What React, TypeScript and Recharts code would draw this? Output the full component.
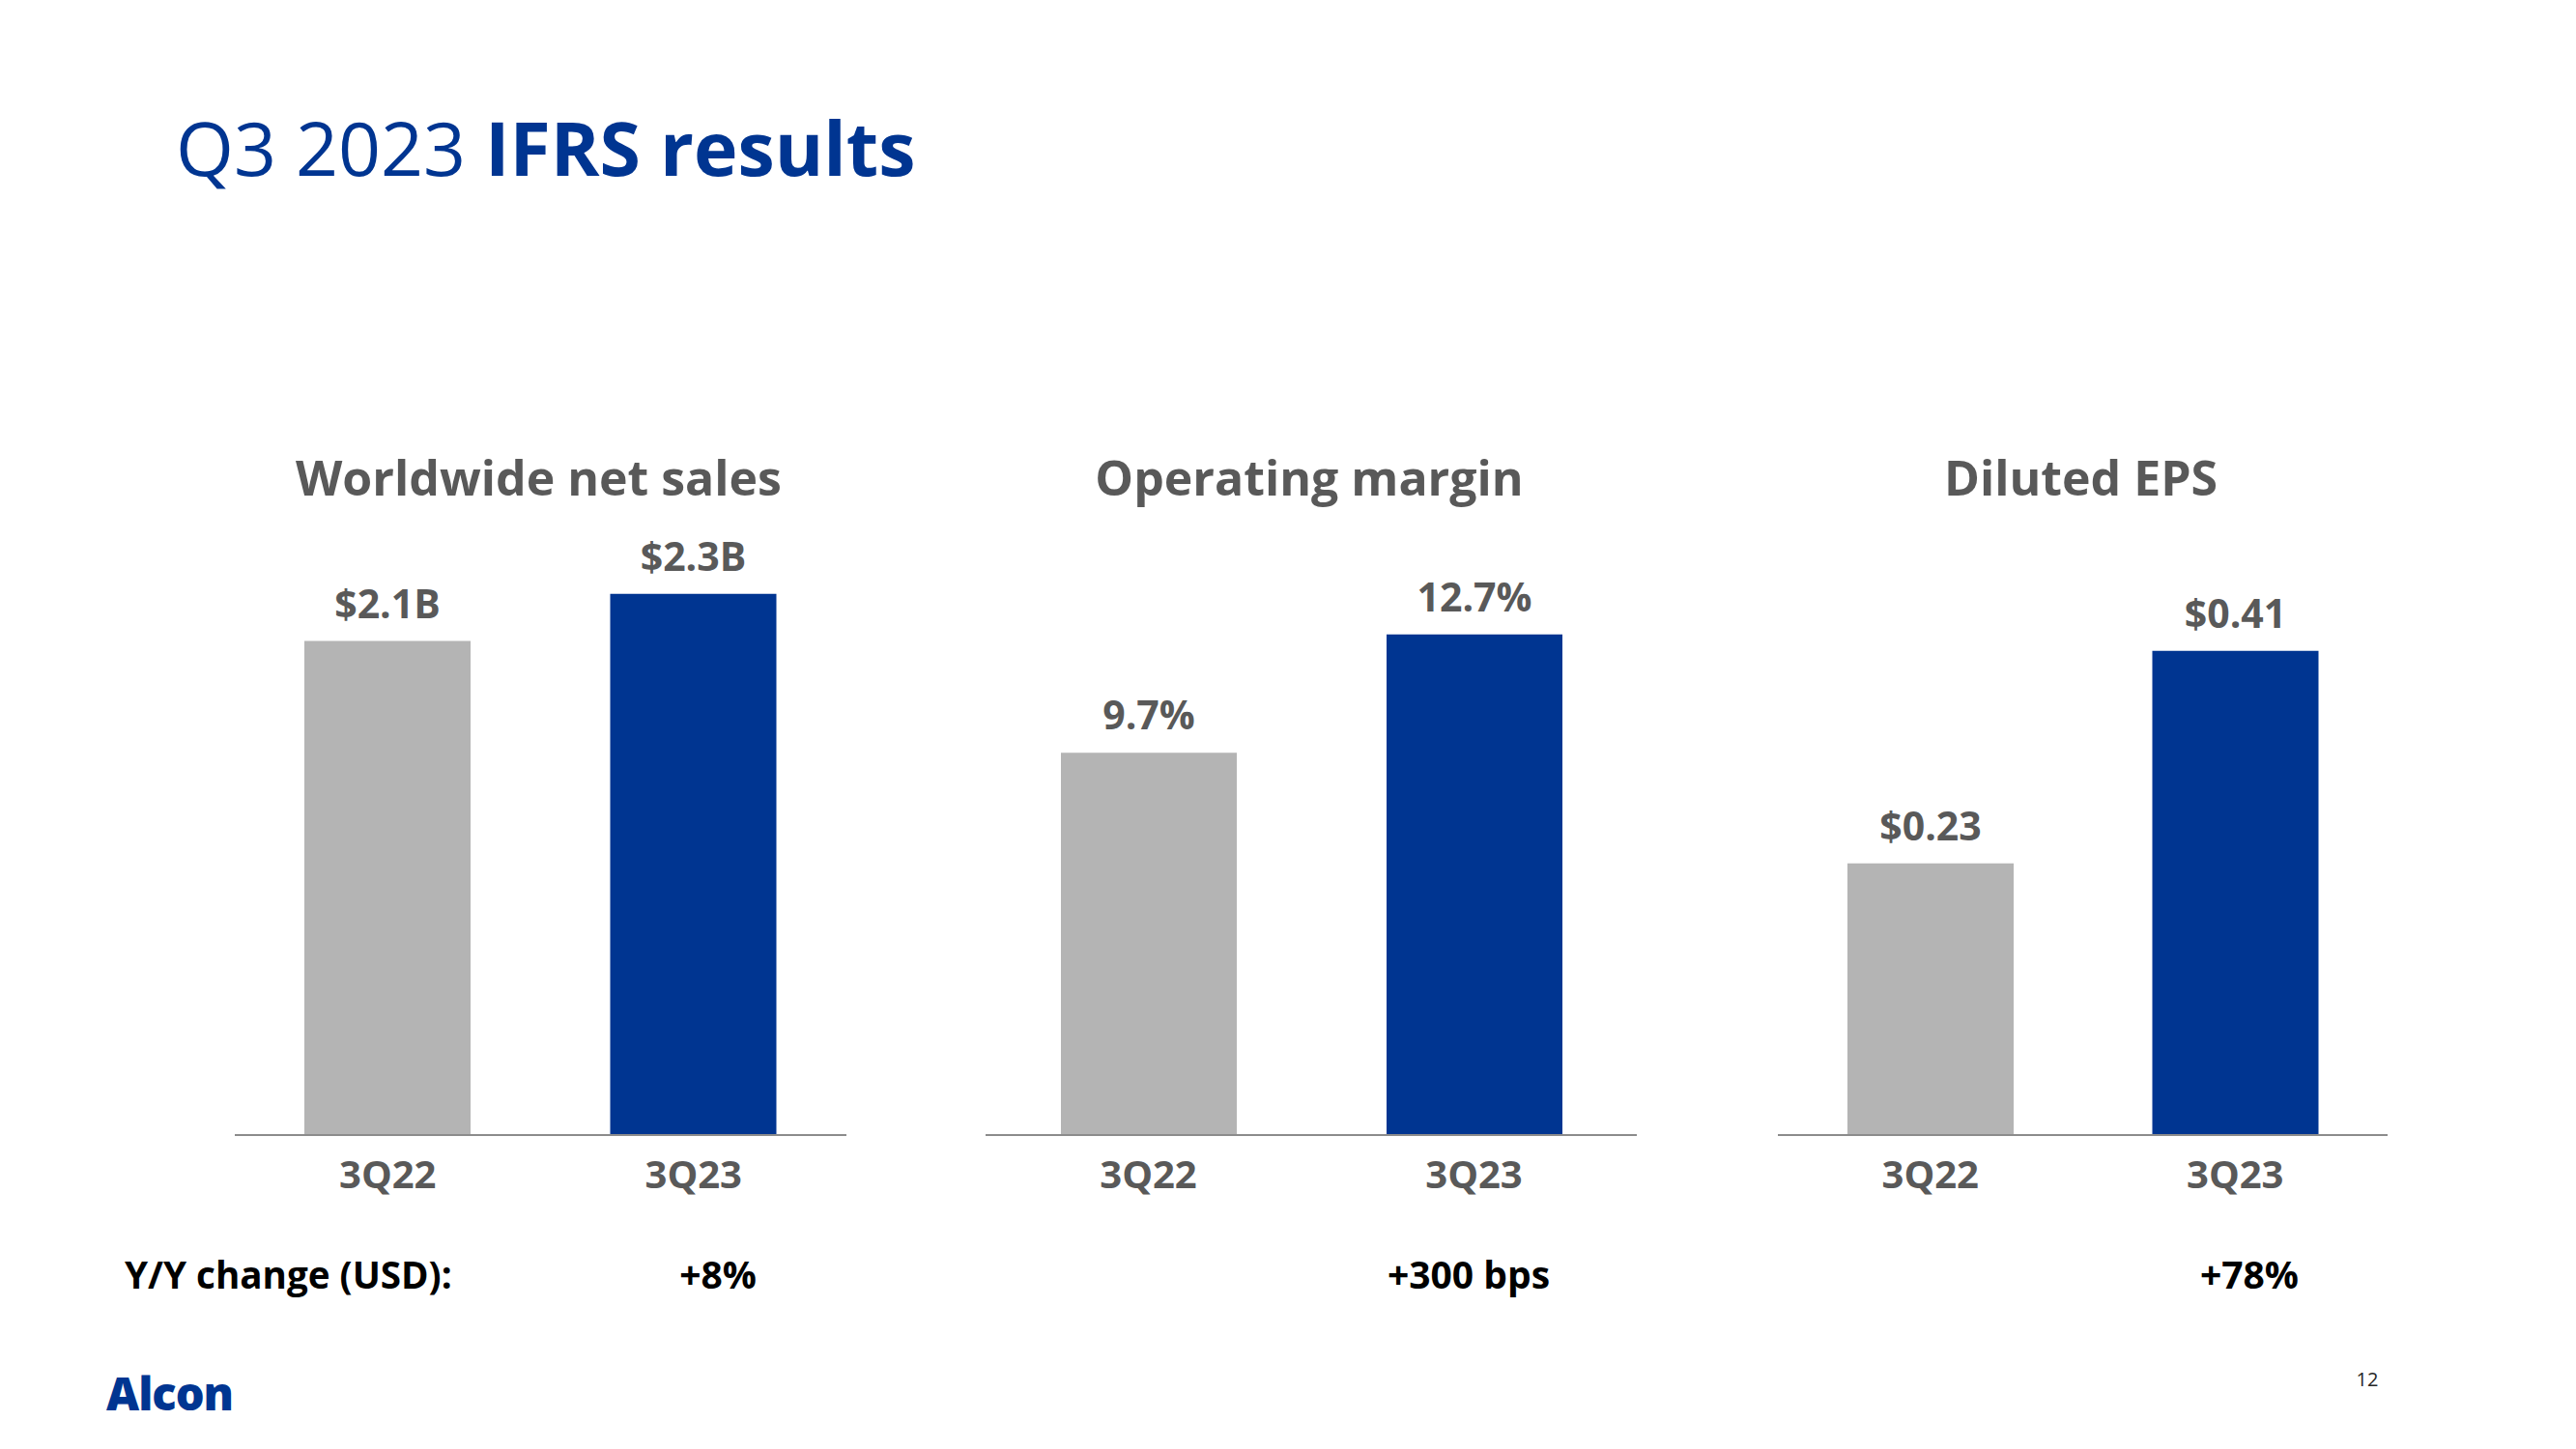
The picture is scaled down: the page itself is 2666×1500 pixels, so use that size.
import { BarChart, Bar, XAxis, YAxis, Cell, LabelList } from 'recharts';

const categories = ['3Q22', '3Q23'];
const salesValues = [2.1, 2.3];
const salesLabels = ['$2.1B', '$2.3B'];
const marginValues = [9.7, 12.7];
const marginLabels = ['9.7%', '12.7%'];
const epsValues = [0.23, 0.41];
const epsLabels = ['$0.23', '$0.41'];
const panelTitles = ['Worldwide net sales', 'Operating margin', 'Diluted EPS'];
const yoyChanges = ['+8%', '+300 bps', '+78%'];

const BLUE = '#003591';
const GREY_TEXT = '#595959';
const barColors = ['#b4b4b4', BLUE];
const FONT = '"Open Sans", sans-serif';

const CHART_TOP = 440;
const CHART_H = 805;

interface PanelProps {
  left: number;
  width: number;
  values: number[];
  labels: string[];
  domainMax: number;
  barSize: number;
}

function Panel({ left, width, values, labels, domainMax, barSize }: PanelProps) {
  const data = categories.map((name, i) => ({ name, value: values[i], label: labels[i] }));
  return (
    <div style={{ position: 'absolute', left, top: CHART_TOP, width, height: CHART_H }}>
      <BarChart width={width} height={CHART_H} data={data} margin={{ top: 120, right: 0, left: 0, bottom: 0 }}>
        <XAxis
          dataKey="name"
          height={70}
          interval={0}
          tickLine={false}
          tickMargin={21}
          axisLine={{ stroke: '#8c8c8c', strokeWidth: 2 }}
          tick={{ fill: GREY_TEXT, fontSize: 40, fontWeight: 700, fontFamily: FONT }}
        />
        <YAxis hide domain={[0, domainMax]} />
        <Bar dataKey="value" barSize={barSize} isAnimationActive={false}>
          {data.map((d, i) => (
            <Cell key={d.name} fill={barColors[i]} />
          ))}
          <LabelList
            dataKey="label"
            position="top"
            offset={24}
            fill={GREY_TEXT}
            fontSize={41}
            fontWeight={700}
            fontFamily={FONT}
          />
        </Bar>
      </BarChart>
    </div>
  );
}

// axis extents in page pixels
const panels = [
  { left: 243, width: 633, values: salesValues, labels: salesLabels, domainMax: 2.525, barSize: 172 },
  { left: 1020, width: 674, values: marginValues, labels: marginLabels, domainMax: 15.07, barSize: 182 },
  { left: 1840, width: 631, values: epsValues, labels: epsLabels, domainMax: 0.503, barSize: 172 },
];
const yoyX = [743, 1520, 2328];

export default function App() {
  return (
    <div style={{ position: 'absolute', left: 0, top: 0, width: 2666, height: 1500, background: '#fff', fontFamily: FONT }}>
      {panels.map((p) => (
        <Panel key={p.left} {...p} />
      ))}
      <svg width={2666} height={1500} style={{ position: 'absolute', left: 0, top: 0, pointerEvents: 'none' }}>
        <text x={182} y={182} fontSize={77} fill={BLUE} fontFamily={FONT}>
          <tspan fontWeight={400}>Q3 2023 </tspan>
          <tspan fontWeight={700}>IFRS results</tspan>
        </text>
        {panels.map((p, i) => (
          <text
            key={panelTitles[i]}
            x={p.left + p.width / 2 - 2}
            y={513}
            textAnchor="middle"
            fontSize={50}
            fontWeight={700}
            fill={GREY_TEXT}
            fontFamily={FONT}
          >
            {panelTitles[i]}
          </text>
        ))}
        <text x={129} y={1334} fontSize={38.6} fontWeight={700} fill="#000" fontFamily={FONT}>
          Y/Y change (USD):
        </text>
        {yoyChanges.map((c, i) => (
          <text key={c} x={yoyX[i]} y={1334} textAnchor="middle" fontSize={39} fontWeight={700} fill="#000" fontFamily={FONT}>
            {c}
          </text>
        ))}
        <text x={110} y={1460} fontSize={47} fontWeight={800} fill={BLUE} fontFamily={FONT} letterSpacing={-1}>
          Alcon
        </text>
        <text x={2450} y={1435} textAnchor="middle" fontSize={20} fill="#262626" fontFamily={FONT}>
          12
        </text>
      </svg>
    </div>
  );
}
